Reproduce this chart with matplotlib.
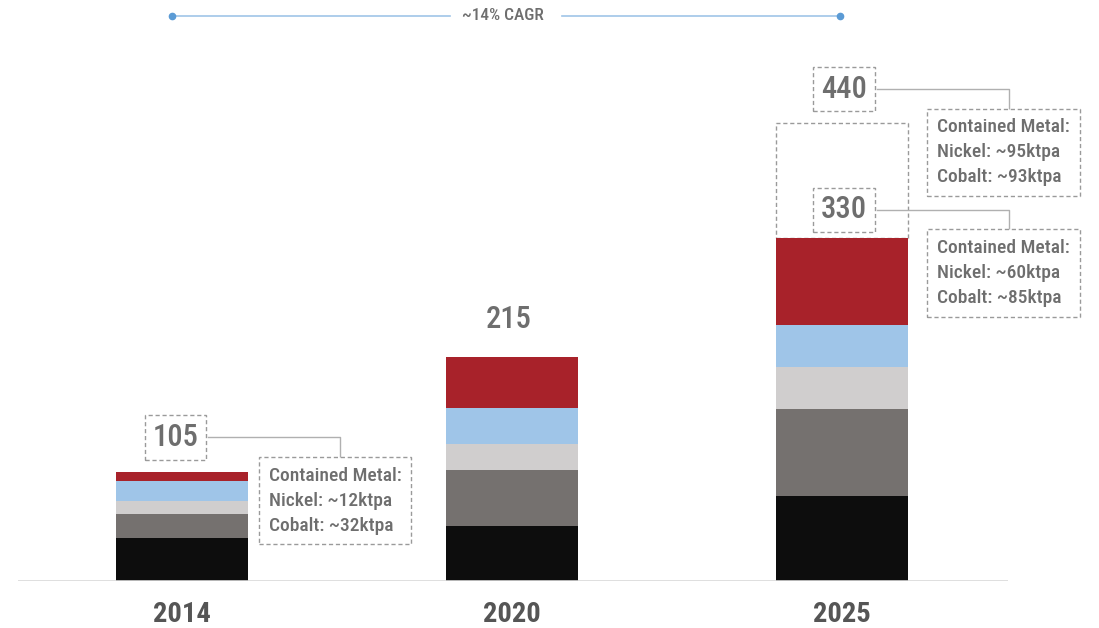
import numpy as np
import matplotlib.pyplot as plt

plt.rcParams['font.family'] = ['Roboto Condensed', 'Roboto', 'DejaVu Sans']

years = ['2014', '2020', '2025']
totals = [105, 215, 330]
projected = 440
# stacked segments, bottom to top
seg_black = [41, 53, 82]
seg_dark = [23, 54, 83]
seg_light = [13, 25, 41]
seg_blue = [19, 34, 40]
seg_red = [9, 49, 84]
seg_colors = ['#0d0d0d', '#75716f', '#d0cece', '#9fc5e8', '#a8222a']
nickel = ['~12ktpa', None, '~60ktpa']
cobalt = ['~32ktpa', None, '~85ktpa']
nickel_proj = '~95ktpa'
cobalt_proj = '~93ktpa'
cagr = '~14% CAGR'

txt_gray = '#6e6e6e'
box_gray = '#9a9a9a'

fig = plt.figure(figsize=(10.99, 6.28), dpi=100)
ax = fig.add_axes([18 / 1099, 47 / 628, 990 / 1099, 581 / 628])
x = np.arange(len(years))
ax.set_xlim(-0.497, 2.503)
ax.set_ylim(0, 558.7)
ax.axis('off')

bottom = np.zeros(len(years))
for seg, c in zip([seg_black, seg_dark, seg_light, seg_blue, seg_red], seg_colors):
    ax.bar(x, seg, 0.4, bottom=bottom, color=c, zorder=2)
    bottom += np.array(seg)

# projected extension for 2025
ax.bar(x[2], projected - totals[2], 0.4, bottom=totals[2], fill=False,
       edgecolor=box_gray, linestyle=(0, (3, 2)), linewidth=1, zorder=1)

ax.axhline(0, color='#d9d9d9', linewidth=1.2, zorder=3)

for xi, yr in zip(x, years):
    ax.text(xi, -39.5, yr, ha='center', va='baseline', fontsize=20.5,
            fontweight='bold', color='#555555')


def value_box(cx, val, dy, nick, cob, lx, box_dx, gap):
    ly = val + dy
    ax.text(cx + lx, ly, str(val), ha='center', va='center', fontsize=22,
            fontweight='medium', color=txt_gray, zorder=5,
            bbox=dict(boxstyle='square,pad=0.25', fc='white', ec=box_gray,
                      ls=(0, (3, 2)), lw=1))
    top = val + gap
    bx = cx + box_dx
    conn_x = bx + 0.245
    ax.plot([cx + lx + 0.1, conn_x, conn_x], [ly, ly, top], color='#b0b0b0',
            lw=1, zorder=4, clip_on=False)
    ax.text(bx + 0.028, top - 6,
            'Contained Metal:\nNickel: ' + nick + '\nCobalt: ' + cob,
            ha='left', va='top', fontsize=14, fontweight='medium',
            color=txt_gray, linespacing=1.5, zorder=5,
            bbox=dict(boxstyle='square,pad=0.5', fc='white', ec=box_gray,
                      ls=(0, (3, 2)), lw=1))


value_box(x[0], totals[0], 33, nickel[0], cobalt[0], -0.02, 0.235, 11)
value_box(x[2], totals[2], 27, nickel[2], cobalt[2], 0.006, 0.26, 5)
value_box(x[2], projected, 33, nickel_proj, cobalt_proj, 0.006, 0.26, 11)
ax.text(x[1] - 0.01, totals[1] + 36, str(totals[1]), ha='center', va='center',
        fontsize=22, fontweight='medium', color=txt_gray)

# CAGR arrow across the top
cy = 16
fig.add_artist(plt.Line2D([172 / 1099, 450 / 1099], [1 - cy / 628] * 2,
                          color='#9fc5e8', lw=1.2))
fig.add_artist(plt.Line2D([562 / 1099, 840 / 1099], [1 - cy / 628] * 2,
                          color='#9fc5e8', lw=1.2))
fig.add_artist(plt.Line2D([172 / 1099, 840 / 1099], [1 - cy / 628] * 2,
                          ls='none', marker='o', ms=4.5, color='#5b9bd5'))
fig.text(503 / 1099, 1 - cy / 628, cagr, ha='center', va='center',
         fontsize=12.5, fontweight='medium', color=txt_gray)

fig.savefig('out.png', dpi=100)
